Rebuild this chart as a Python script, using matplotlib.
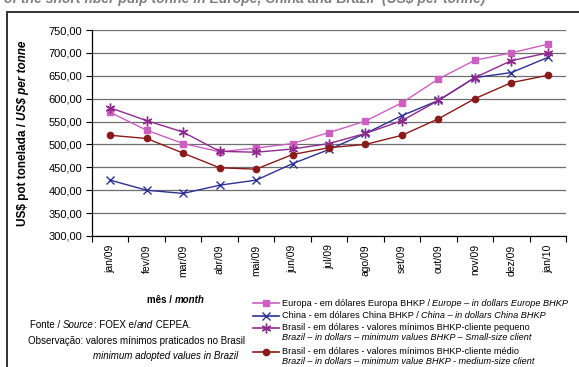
import matplotlib
matplotlib.use("Agg")
import matplotlib.pyplot as plt
from matplotlib.lines import Line2D
from matplotlib.patches import Rectangle

plt.rcParams['font.family'] = ['Liberation Sans', 'DejaVu Sans']

months = ['jan/09', 'fev/09', 'mar/09', 'abr/09', 'mai/09', 'jun/09', 'jul/09',
          'ago/09', 'set/09', 'out/09', 'nov/09', 'dez/09', 'jan/10']

europa = [570, 531, 502, 484, 492, 502, 526, 551, 591, 643, 684, 700, 719]
china = [422, 400, 393, 411, 422, 458, 489, 524, 563, 596, 646, 657, 690]
brasil_pequeno = [580, 552, 527, 485, 483, 490, 502, 524, 552, 596, 646, 683, 700]
brasil_medio = [520, 513, 481, 449, 446, 478, 493, 500, 520, 556, 600, 635, 651]

y_ticks = list(range(300, 751, 50))

W, H = 579, 367
fig = plt.figure(figsize=(W / 100, H / 100), dpi=100)


def fx(px):
    return px / W


def fy(py):
    return 1 - py / H


ax = fig.add_axes([fx(92), fy(236), fx(566) - fx(92), fy(30) - fy(236)])

series = [
    (europa, '#cc5fbf', 's', 4.5, 'Europa'),
    (china, '#2e3192', 'x', 6, 'China'),
    (brasil_pequeno, '#8e2a8e', (6, 2, 0), 7, 'Brasil pequeno'),
    (brasil_medio, '#8b1a1a', 'o', 4.5, 'Brasil medio'),
]
xs = list(range(len(months)))
for vals, col, mk, ms, name in series:
    ax.plot(xs, vals, color=col, lw=1, marker=mk, ms=ms, mew=1,
            mfc=col, mec=col, zorder=3)

ax.set_ylim(300, 750)
ax.set_yticks(y_ticks)
ax.set_yticklabels([f'{v:.2f}'.replace('.', ',') for v in y_ticks], fontsize=8)
ax.set_xlim(-0.5, len(months) - 0.5)
ax.set_xticks([i - 0.5 for i in range(len(months) + 1)])
ax.set_xticklabels([])
ax.set_xticks(xs, minor=True)
ax.set_xticklabels(months, minor=True, rotation=90, fontsize=7.5)
ax.tick_params(axis='x', which='minor', length=0, pad=6)
ax.tick_params(axis='x', which='major', length=4, width=0.8, direction='out')
ax.tick_params(axis='y', length=4, width=0.8, direction='out', pad=3)

ax.grid(axis='y', color='#6e6e6e', lw=0.9)
ax.set_axisbelow(True)
for s in ['top', 'right']:
    ax.spines[s].set_visible(False)
for s in ['left', 'bottom']:
    ax.spines[s].set_linewidth(0.9)

# outer frame
fig.add_artist(Rectangle((fx(7), fy(400)), 1, fy(12) - fy(400),
                         transform=fig.transFigure, fill=False,
                         ec='#333333', lw=1.4))

fig.text(fx(4), fy(3.5), 'of the short fiber pulp tonne in Europe, China and Brazil  (US$ per tonne)',
         fontsize=10, fontweight='bold', style='italic', color='#7f7f7f',
         va='baseline', ha='left')

fig.canvas.draw()
renderer = fig.canvas.get_renderer()


def run_h(x, y, parts, size, ha='left', **kw):
    # place text pieces one after another on one line
    objs = []
    cx = x
    for txt, style, weight in parts:
        t = fig.text(cx, y, txt, fontsize=size, style=style, fontweight=weight,
                     va='center', ha='left', **kw)
        bb = t.get_window_extent(renderer)
        cx += bb.width / W
        objs.append(t)
    if ha == 'right':
        shift = cx - x
        for t in objs:
            px, py = t.get_position()
            t.set_position((px - shift, py))
    return objs


def run_v(x, y, parts, size):
    # rotated pieces stacked bottom to top, centred at y
    objs = []
    cy = 0.0
    for txt, style, weight in parts:
        t = fig.text(x, cy, txt, fontsize=size, style=style, fontweight=weight,
                     rotation=90, ha='center', va='bottom')
        bb = t.get_window_extent(renderer)
        cy += bb.height / H
        objs.append(t)
    off = y - cy / 2
    for t in objs:
        px, py = t.get_position()
        t.set_position((px, py + off))


run_v(fx(23), fy(133), [('US$ pot tonelada / ', 'normal', 'bold'),
                        ('US$ per tonne', 'italic', 'bold')], 8.5)

run_h(fx(205), fy(300), [('mês / ', 'normal', 'bold'),
                         ('month', 'italic', 'bold')], 7, ha='right')
run_h(fx(30), fy(325), [('Fonte / ', 'normal', 'normal'), ('Source', 'italic', 'normal'),
                        (': FOEX e/', 'normal', 'normal'), ('and', 'italic', 'normal'),
                        (' CEPEA.', 'normal', 'normal')], 7)
fig.text(fx(28), fy(341), 'Observação: valores mínimos praticados no Brasil',
         fontsize=7, va='center', ha='left')
fig.text(fx(238), fy(356), 'minimum adopted values in Brazil',
         fontsize=7, style='italic', va='center', ha='right')

legend_rows = [
    (fy(303), [[('Europa - em dólares Europa BHKP / ', 'normal', 'normal'),
                ('Europe – in dollars Europe BHKP', 'italic', 'normal')]]),
    (fy(316), [[('China - em dólares China BHKP / ', 'normal', 'normal'),
                ('China – in dollars China BHKP', 'italic', 'normal')]]),
    (fy(328), [[('Brasil - em dólares - valores mínimos BHKP-cliente pequeno', 'normal', 'normal')],
               [('Brazil – in dollars – minimum values BHKP – Small-size client', 'italic', 'normal')]]),
    (fy(352), [[('Brasil - em dólares - valores mínimos BHKP-cliente médio', 'normal', 'normal')],
               [('Brazil – in dollars – minimum value BHKP - medium-size client', 'italic', 'normal')]]),
]
for (ly, lines), (vals, col, mk, ms, name) in zip(legend_rows, series):
    fig.add_artist(Line2D([fx(253), fx(279)], [ly, ly], transform=fig.transFigure,
                          color=col, lw=1.2))
    fig.add_artist(Line2D([fx(266)], [ly], transform=fig.transFigure, color=col,
                          marker=mk, ms=ms, mfc=col, mec=col, lw=0))
    for i, parts in enumerate(lines):
        run_h(fx(282), ly - i * 10 / H, parts, 6.6)

fig.savefig('out.png', dpi=100)
